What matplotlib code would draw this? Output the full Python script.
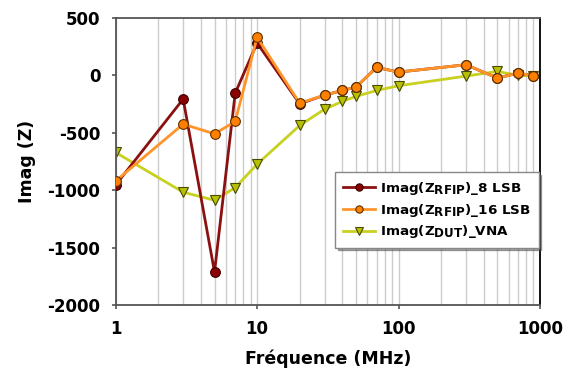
import numpy as np
import matplotlib
matplotlib.use("Agg")
import matplotlib.pyplot as plt
import matplotlib._mathtext as mathtext_mod
from matplotlib.ticker import FixedLocator, LogLocator, NullFormatter

# police: DejaVu Sans en gras, indices un peu plus grands que par défaut
plt.rcParams['font.family'] = ['DejaVu Sans']
plt.rcParams['axes.unicode_minus'] = False
plt.rcParams['mathtext.fontset'] = 'custom'
plt.rcParams['mathtext.bf'] = 'DejaVu Sans:bold'
plt.rcParams['mathtext.rm'] = 'DejaVu Sans:bold'
plt.rcParams['mathtext.default'] = 'bf'
mathtext_mod.SHRINK_FACTOR = 0.88

# données (MHz, ohms)
freq = [1, 3, 5, 7, 10, 20, 30, 40, 50, 70, 100, 300, 500, 700, 900]
imag_8lsb = [-953, -206, -1712, -154, 282, -247, -172, -131, -102, 70, 29, 93, -23, 20, -3]
imag_16lsb = [-919, -424, -509, -401, 331, -241, -172, -131, -102, 70, 29, 93, -23, 20, -3]
imag_vna = [-671, -1017, -1087, -977, -773, -436, -294, -227, -183, -131, -90, -6, 35, 0, -3]

labels = [r"Imag(Z$_{RFIP}$)_8 LSB",
          r"Imag(Z$_{RFIP}$)_16 LSB",
          r"Imag(Z$_{DUT}$)_VNA"]

fig = plt.figure(figsize=(5.71, 3.79), dpi=100)
ax = fig.add_axes([0.2026, 0.195, 0.743, 0.7575])

ax.plot(freq, imag_8lsb, color='#8B1010', lw=2, marker='o', ms=7,
        mfc='#8B0000', mec='#3a0000', mew=0.8, label=labels[0], zorder=3)
ax.plot(freq, imag_16lsb, color='#FF9428', lw=2, marker='o', ms=7,
        mfc='#FF8000', mec='#5a3000', mew=0.8, label=labels[1], zorder=4)
ax.plot(freq, imag_vna, color='#C8D020', lw=2, marker='v', ms=7,
        mfc='#B8C000', mec='#4a4a00', mew=0.8, label=labels[2], zorder=2)

ax.set_xscale('log')
ax.set_xlim(1, 1000)
ax.set_ylim(-2000, 500)
ax.yaxis.set_major_locator(FixedLocator(np.arange(-2000, 501, 500)))
ax.xaxis.set_major_locator(FixedLocator([1, 10, 100, 1000]))
ax.xaxis.set_minor_locator(LogLocator(base=10, subs=np.arange(2, 10)))
ax.xaxis.set_minor_formatter(NullFormatter())
ax.set_xticklabels(['1', '10', '100', '1000'])

ax.grid(True, which='both', axis='x', color='#cccccc', lw=1)
ax.set_axisbelow(True)
ax.tick_params(axis='x', which='minor', length=0)
ax.tick_params(axis='both', which='major', direction='out', length=3,
               width=1.2, color='#555555', labelsize=12)
ax.tick_params(axis='x', which='major', pad=8)
ax.tick_params(axis='y', which='major', pad=8)
for lab in ax.get_xticklabels() + ax.get_yticklabels():
    lab.set_fontweight('bold')

for side in ['left', 'bottom', 'top']:
    ax.spines[side].set_color('#555555')
    ax.spines[side].set_linewidth(1.3)
ax.spines['right'].set_color('black')
ax.spines['right'].set_linewidth(1.3)

ax.set_xlabel('Fréquence (MHz)', fontsize=12.5, fontweight='bold', labelpad=8)
ax.set_ylabel('Imag (Z)', fontsize=12.5, fontweight='bold', labelpad=8)

leg = ax.legend(loc='lower right', bbox_to_anchor=(0.997, 0.2),
                borderaxespad=0, fontsize=9.7, frameon=True, shadow=True,
                fancybox=False, edgecolor='#888888', handlelength=2.4,
                handletextpad=0.4, borderpad=0.55, labelspacing=0.35,
                markerscale=0.75)
for t in leg.get_texts():
    t.set_fontweight('bold')

fig.savefig('out.png', dpi=100)
